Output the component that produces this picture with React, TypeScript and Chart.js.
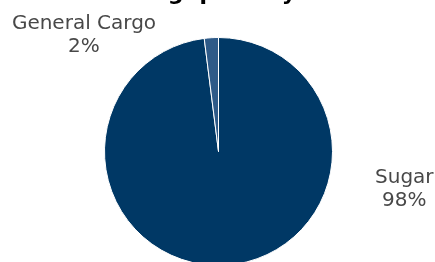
import { useEffect, useRef } from "react";
import { Chart, registerables } from "chart.js";

Chart.register(...registerables);

const categories = ["Sugar", "General Cargo"];
const shares = [98, 2];
const sliceColors = ["#003865", "#2E5A88"];
const titleText = "Handling quantity";

// label placement relative to the pie centre, in multiples of the radius
const labelOffsets = [
  [1.63, 0.33],
  [-1.18, -1.02],
];

export default function App() {
  const ref = useRef<HTMLCanvasElement>(null);

  useEffect(() => {
    if (!ref.current) return;
    const labelPlugin = {
      id: "pieLabels",
      afterDraw(chart: any) {
        const ctx = chart.ctx;
        const arc: any = chart.getDatasetMeta(0).data[0];
        if (!arc) return;
        const x = arc.x;
        const y = arc.y;
        const r = arc.outerRadius;
        ctx.save();
        ctx.font = "bold 22px 'DejaVu Sans'";
        ctx.fillStyle = "#000000";
        ctx.textAlign = "right";
        ctx.textBaseline = "alphabetic";
        ctx.fillText(titleText, x + 0.68 * r, y - 1.33 * r);

        const total = shares.reduce((a, b) => a + b, 0);
        ctx.font = "20px 'DejaVu Sans'";
        ctx.fillStyle = "#484848";
        ctx.textAlign = "center";
        ctx.textBaseline = "middle";
        categories.forEach((c, i) => {
          const pct = Math.round((shares[i] / total) * 100) + "%";
          const lx = x + labelOffsets[i][0] * r;
          const ly = y + labelOffsets[i][1] * r;
          ctx.fillText(c, lx, ly - 11.5);
          ctx.fillText(pct, lx, ly + 11.5);
        });
        ctx.restore();
      },
    };

    const chart = new Chart(ref.current, {
      type: "pie",
      data: {
        labels: categories,
        datasets: [
          {
            data: shares,
            backgroundColor: sliceColors,
            borderColor: "#ffffff",
            borderWidth: 1,
          },
        ],
      },
      options: {
        responsive: false,
        animation: false,
        layout: { padding: { left: 104, right: 102, top: 37, bottom: 34 } },
        plugins: {
          legend: { display: false },
          tooltip: { enabled: false },
          title: { display: false },
        },
      },
      plugins: [labelPlugin],
    });
    return () => chart.destroy();
  }, []);

  return (
    <div
      style={{
        position: "absolute",
        left: 0,
        top: 0,
        width: 435,
        height: 262,
        overflow: "hidden",
        background: "#ffffff",
      }}
    >
      <canvas ref={ref} width={435} height={300} />
    </div>
  );
}
